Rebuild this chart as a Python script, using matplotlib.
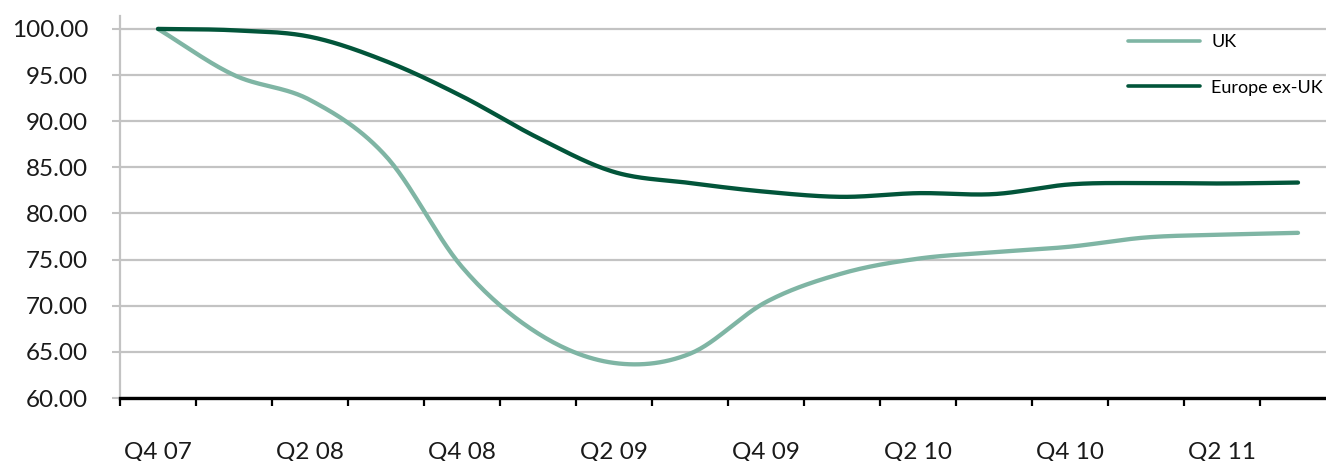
import numpy as np
import matplotlib
matplotlib.use("Agg")
import matplotlib.pyplot as plt
from matplotlib.ticker import FixedLocator, FuncFormatter

quarters = ["Q4 07", "Q1 08", "Q2 08", "Q3 08", "Q4 08", "Q1 09", "Q2 09", "Q3 09",
            "Q4 09", "Q1 10", "Q2 10", "Q3 10", "Q4 10", "Q1 11", "Q2 11", "Q3 11"]
uk = [100.0, 95.0, 92.3, 86.2, 74.2, 67.0, 63.8, 64.8,
      70.4, 73.5, 75.1, 75.8, 76.4, 77.4, 77.7, 77.9]
europe = [100.0, 99.85, 99.15, 96.5, 92.7, 88.2, 84.5, 83.3,
          82.35, 81.8, 82.2, 82.1, 83.15, 83.3, 83.25, 83.35]

UK_COL = "#7fb5a4"
EU_COL = "#02553a"
GRID_COL = "#c3c3c3"


def smooth(y, n=30):
    # Catmull-Rom through the quarterly points, like a smoothed line chart
    y = np.asarray(y, float)
    p = np.concatenate([[2 * y[0] - y[1]], y, [2 * y[-1] - y[-2]]])
    xs, ys = [], []
    for i in range(len(y) - 1):
        p0, p1, p2, p3 = p[i], p[i + 1], p[i + 2], p[i + 3]
        t = np.linspace(0, 1, n, endpoint=False)
        v = 0.5 * ((2 * p1) + (-p0 + p2) * t + (2 * p0 - 5 * p1 + 4 * p2 - p3) * t ** 2
                   + (-p0 + 3 * p1 - 3 * p2 + p3) * t ** 3)
        xs.append(i + t)
        ys.append(v)
    xs.append([len(y) - 1])
    ys.append([y[-1]])
    return np.concatenate(xs), np.concatenate(ys)


plt.rcParams["font.family"] = ["Lato", "DejaVu Sans"]

W, H = 1326, 461
fig = plt.figure(figsize=(W / 100, H / 100), dpi=100)
ax = fig.add_axes([120 / W, 63 / H, (1336 - 120) / W, (398 - 16) / H])

x_uk, y_uk = smooth(uk)
x_eu, y_eu = smooth(europe)
ax.plot(x_uk, y_uk, color=UK_COL, lw=3.1, solid_capstyle="round", label="UK", zorder=3)
ax.plot(x_eu, y_eu, color=EU_COL, lw=3.1, solid_capstyle="round", label="Europe ex-UK", zorder=3)

ax.set_xlim(-0.5, len(quarters) - 0.5)
ax.set_ylim(60, 101.4)

ax.set_yticks(np.arange(60, 101, 5))
ax.yaxis.set_major_formatter(FuncFormatter(lambda v, _: f"{v:.2f}"))
ax.yaxis.grid(True, color=GRID_COL, lw=1.6)
ax.set_axisbelow(True)
ax.tick_params(axis="y", length=6, width=1.5, color=GRID_COL, pad=17, labelsize=17.5, labelcolor="#1a1a1a")

# labels on every second quarter, tick marks on the category boundaries
ax.set_xticks(range(0, len(quarters), 2))
ax.set_xticklabels(quarters[::2])
ax.xaxis.set_minor_locator(FixedLocator(np.arange(-0.5, len(quarters), 1)))
ax.tick_params(axis="x", which="major", length=0, pad=31, labelsize=17.5, labelcolor="#1a1a1a")
ax.tick_params(axis="x", which="minor", length=6, width=1.6, color="black")

for s in ["top", "right"]:
    ax.spines[s].set_visible(False)
ax.spines["left"].set_color(GRID_COL)
ax.spines["left"].set_linewidth(1.6)
ax.spines["bottom"].set_color("black")
ax.spines["bottom"].set_linewidth(2.4)
ax.spines["bottom"].set_zorder(4)

leg = fig.legend(loc="upper left", bbox_to_anchor=(1128 / W, 1 - 34 / H), frameon=False,
                 fontsize=13, handlelength=4.0, handletextpad=0.6, labelspacing=1.65,
                 borderpad=0, borderaxespad=0)
for line in leg.get_lines():
    line.set_linewidth(2.6)

fig.savefig("out.png", dpi=100)
